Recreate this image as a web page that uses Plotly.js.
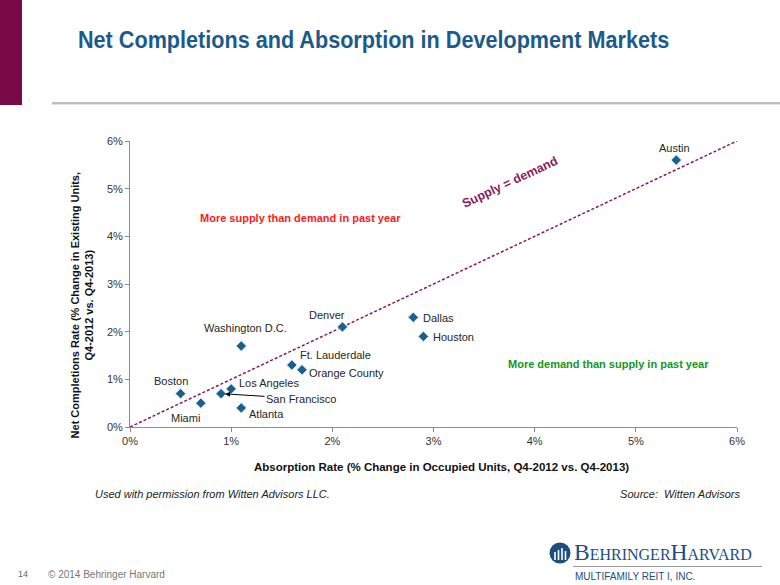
<!DOCTYPE html>
<html><head><meta charset="utf-8">
<script src="https://cdn.plot.ly/plotly-3.0.1.min.js"></script>
<style>
html,body{margin:0;padding:0;background:#fff;}
#wrap{position:relative;width:780px;height:585px;overflow:hidden;font-family:"Liberation Sans",Arial,sans-serif;}
#chart{position:absolute;left:0;top:0;width:780px;height:585px;}
.deco{position:absolute;white-space:nowrap;}
</style></head>
<body>
<div id="wrap">
<div id="chart"></div>
<div class="deco" style="left:0;top:0;width:22px;height:105px;background:#7A0A47;"></div>
<div class="deco" style="left:52px;top:102px;width:728px;height:2px;background:#BDBDBD;border-bottom:1px solid #E2E2E2;"></div>
<div class="deco" style="left:95px;top:488px;font-size:11px;font-style:italic;color:#222;">Used with permission from Witten Advisors LLC.</div>
<div class="deco" style="right:40px;top:488px;font-size:11px;font-style:italic;color:#222;">Source:&nbsp; Witten Advisors</div>
<div class="deco" style="left:18px;top:569px;font-size:9px;color:#666;">14</div>
<div class="deco" style="left:48px;top:569px;font-size:10px;color:#777;">© 2014 Behringer Harvard</div>
<svg class="deco" style="left:549px;top:542px;" width="22" height="22" viewBox="0 0 22 22">
<circle cx="11" cy="11" r="10.5" fill="#1C4E80"/>
<path d="M6 18 V10 M9.5 18 V8 M13 18 V6 M16.5 18 V9" stroke="#fff" stroke-width="1.6" fill="none"/>
</svg>
<div class="deco" style="left:574px;top:539px;font-family:'Liberation Serif','DejaVu Serif',serif;font-size:23.5px;color:#1C4E80;font-variant:small-caps;">BehringerHarvard</div>
<div class="deco" style="left:573px;top:566px;width:189px;height:1px;background:#9A9A9A;"></div>
<div class="deco" style="left:575px;top:571px;font-size:10px;color:#1C4E80;">MULTIFAMILY REIT I, INC.</div>
</div>
<script>
// data
var markets = ["Austin","Denver","Dallas","Houston","Washington D.C.","Ft. Lauderdale","Orange County","Los Angeles","San Francisco","Boston","Miami","Atlanta"];
var absorption = [5.4, 2.1, 2.8, 2.9, 1.1, 1.6, 1.7, 1.0, 0.9, 0.5, 0.7, 1.1];
var completions = [5.6, 2.1, 2.3, 1.9, 1.7, 1.3, 1.2, 0.8, 0.7, 0.7, 0.5, 0.4];
var parityX = [0, 6];
var parityY = [0, 6];
var tickVals = [0,1,2,3,4,5,6];
var tickText = ["0%","1%","2%","3%","4%","5%","6%"];

// label placement (px offsets)
var labelPos = {
 "Austin":{xa:"center",ya:"bottom",dx:-2,dy:4},
 "Denver":{xa:"center",ya:"bottom",dx:-15,dy:4},
 "Dallas":{xa:"left",ya:"middle",dx:8,dy:-1},
 "Houston":{xa:"left",ya:"middle",dx:8,dy:-1},
 "Washington D.C.":{xa:"center",ya:"bottom",dx:4,dy:10},
 "Ft. Lauderdale":{xa:"left",ya:"middle",dx:6,dy:10},
 "Orange County":{xa:"left",ya:"middle",dx:5,dy:-3},
 "Los Angeles":{xa:"left",ya:"middle",dx:6,dy:6},
 "Boston":{xa:"center",ya:"middle",dx:-10,dy:13},
 "Miami":{xa:"center",ya:"middle",dx:-15,dy:-15},
 "Atlanta":{xa:"left",ya:"middle",dx:6,dy:-6}
};

var labFont = {family:"Liberation Sans, Arial, sans-serif", size:11, color:"#262626"};
var ann = [];
markets.forEach(function(m,i){
  if (m === "San Francisco") {
    ann.push({x:absorption[i], y:completions[i], xref:"x", yref:"y", text:m, showarrow:true,
      ax:80, ay:5, arrowhead:2, arrowsize:1, arrowwidth:1, arrowcolor:"#000", standoff:4, font:labFont});
  } else {
    var p = labelPos[m];
    ann.push({x:absorption[i], y:completions[i], xref:"x", yref:"y", text:m, showarrow:false,
      xanchor:p.xa, yanchor:p.ya, xshift:p.dx, yshift:p.dy, font:labFont});
  }
});
ann.push({x:1.69, y:4.38, xref:"x", yref:"y", text:"<b>More supply than demand in past year</b>", showarrow:false,
  font:{family:"Liberation Sans, Arial", size:11, color:"#FF1A1A"}});
ann.push({x:4.73, y:1.32, xref:"x", yref:"y", text:"<b>More demand than supply in past year</b>", showarrow:false,
  font:{family:"Liberation Sans, Arial", size:11, color:"#13961A"}});
ann.push({x:3.76, y:5.14, xref:"x", yref:"y", text:"<b>Supply = demand</b>", showarrow:false, textangle:-25.2,
  font:{family:"Liberation Sans, Arial", size:12.5, color:"#8A1A5E"}});
ann.push({x:-0.0791, xref:"paper", y:0.425, yref:"paper", xanchor:"center", yanchor:"middle", textangle:-90, showarrow:false,
  text:"<b>Net Completions Rate (% Change in Existing Units,<br>Q4-2012 vs. Q4-2013)</b>",
  font:{family:"Liberation Sans, Arial", size:11, color:"#111"}});
ann.push({x:0.514, xref:"paper", y:-0.139, yref:"paper", xanchor:"center", yanchor:"middle", showarrow:false,
  text:"<b>Absorption Rate (% Change in Occupied Units, Q4-2012 vs. Q4-2013)</b>",
  font:{family:"Liberation Sans, Arial", size:11.5, color:"#111"}});

var traces = [
 {x:parityX, y:parityY, mode:"lines", line:{color:"#8A1A5E", width:1.5, dash:"3px,2px"}, hoverinfo:"skip"},
 {x:absorption, y:completions, mode:"markers", cliponaxis:false,
  marker:{symbol:"diamond", size:8, color:"#1C5F8E", line:{color:"#D6E4EF", width:1}}}
];

var axisCommon = {range:[0,6], tickvals:tickVals, ticktext:tickText, showgrid:false, zeroline:false,
  showline:true, linecolor:"#8C8C8C", linewidth:1, ticks:"outside", ticklen:4, tickcolor:"#8C8C8C",
  tickfont:{family:"Liberation Sans, Arial", size:11, color:"#333"}, fixedrange:true};

var layout = {
  width:780, height:585, showlegend:false, paper_bgcolor:"#fff", plot_bgcolor:"#fff",
  margin:{l:130, r:43, t:141, b:158, pad:0},
  title:{text:"<b>Net Completions and Absorption in Development Markets</b>", x:78/780, xanchor:"left",
    y:1-40/585, yanchor:"middle", xref:"container", yref:"container",
    font:{family:"Liberation Sans, Arial", size:23, color:"#1B5A8C"}},
  xaxis:Object.assign({}, axisCommon),
  yaxis:Object.assign({}, axisCommon),
  annotations:ann
};

function squeezeTitle(){
  var t = document.querySelector("#chart .gtitle");
  if (!t) return;
  var x = 78, y = parseFloat(t.getAttribute("y")) || 0;
  t.setAttribute("transform", "translate(" + x + ",0) scale(0.94,1) translate(" + (-x) + ",0)");
}
Plotly.newPlot("chart", traces, layout, {displayModeBar:false, staticPlot:true}).then(squeezeTitle);
</script>
</body></html>
